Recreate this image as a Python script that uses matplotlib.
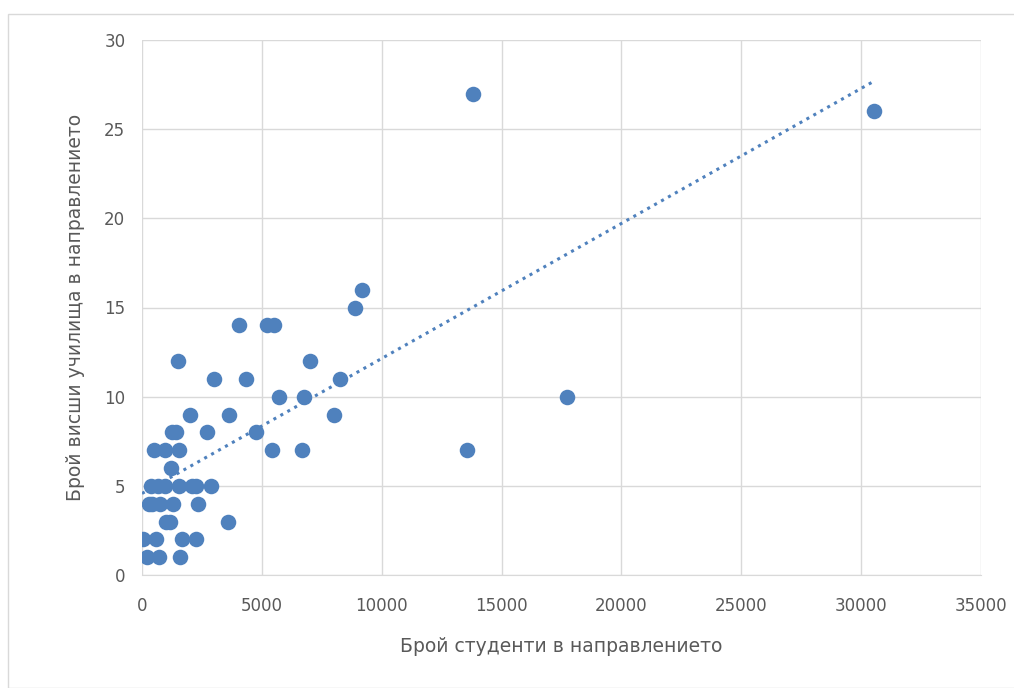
import matplotlib.pyplot as plt
import numpy as np

# Students per field vs number of universities
students = [8886, 9178, 13810, 30540, 17731, 13560,
            4060, 5200, 5507, 1516, 7009, 3018, 4353, 8261,
            5702, 6745, 2016, 3630, 7997, 1238, 1419, 2726, 4756,
            501, 960, 1557, 5437, 6689, 1210,
            362, 681, 960, 1557, 2072, 2239, 2865,
            300, 751, 1280, 2323, 420,
            1001, 1168, 3574,
            56, 570, 1655, 2253,
            195, 723, 1586]
schools = [15, 16, 27, 26, 10, 7,
           14, 14, 14, 12, 12, 11, 11, 11,
           10, 10, 9, 9, 9, 8, 8, 8, 8,
           7, 7, 7, 7, 7, 6,
           5, 5, 5, 5, 5, 5, 5,
           4, 4, 4, 4, 4,
           3, 3, 3,
           2, 2, 2, 2,
           1, 1, 1]

x = np.array(students)
y = np.array(schools)
k, b = np.polyfit(x, y, 1)

fig = plt.figure(figsize=(10.14, 6.88), dpi=100)
ax = fig.add_axes([142 / 1014, 1 - 575 / 688, 839 / 1014, 535 / 688])

fig.patches.append(plt.Rectangle((8 / 1014, 0), 1, 1 - 14 / 688, transform=fig.transFigure,
                                 fill=False, edgecolor='#d9d9d9', linewidth=1))

color = '#4F81BD'
ax.scatter(x, y, s=125, color=color, zorder=3, linewidths=0)
xs = np.array([0, x.max()])
ax.plot(xs, k * xs + b, color=color, linestyle=(0, (1, 1.6)), linewidth=2.2, zorder=2)

ax.set_xlim(0, 35000)
ax.set_ylim(0, 30)
ax.set_xticks(range(0, 35001, 5000))
ax.set_yticks(range(0, 31, 5))
ax.grid(True, color='#d9d9d9', linewidth=1)
ax.set_axisbelow(True)
for s in ['top', 'right', 'left']:
    ax.spines[s].set_visible(False)
ax.spines['bottom'].set_color('#d9d9d9')
ax.tick_params(length=0, labelsize=12, colors='#595959')
ax.tick_params(axis='x', pad=16)
ax.tick_params(axis='y', pad=12)

ax.set_xlabel('Брой студенти в направлението', fontsize=13.5, color='#595959', labelpad=16)
ax.set_ylabel('Брой висши училища в направлението', fontsize=13.5, color='#595959', labelpad=14)

fig.savefig('out.png', dpi=100)
